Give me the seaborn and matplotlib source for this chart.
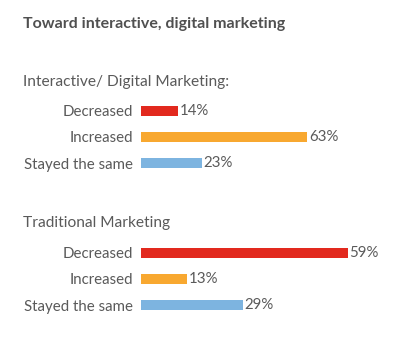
import matplotlib
matplotlib.use("Agg")
import matplotlib.pyplot as plt
import seaborn as sns
import pandas as pd

# data
categories = ["Decreased", "Increased", "Stayed the same"]
interactive_pct = [14, 63, 23]
traditional_pct = [59, 13, 29]
bar_colors = ["#E2291E", "#F8A830", "#7DB4E0"]

title = "Toward interactive, digital marketing"
group_titles = ["Interactive/ Digital Marketing:", "Traditional Marketing"]

sns.set_theme(style="white")
plt.rcParams['font.family'] = ['Lato', 'DejaVu Sans']

W, H = 400, 356
fig = plt.figure(figsize=(W / 100, H / 100), dpi=100)
fig.patch.set_facecolor("white")

text_grey = "#5a5a5a"


def px_axes(left, top, width, height):
    # pixel box (from top-left) -> figure axes
    return fig.add_axes([left / W, 1 - (top + height) / H, width / W, height / H])


def draw_group(ax, values, xmax):
    df = pd.DataFrame({"cat": categories, "pct": values})
    sns.barplot(data=df, x="pct", y="cat", hue="cat", palette=bar_colors,
                orient="h", width=0.42, dodge=False, legend=False, ax=ax,
                saturation=1, linewidth=0)
    for cont in ax.containers:
        ax.bar_label(cont, fmt="%d%%", padding=1.5, fontsize=10.8, color=text_grey)
    ax.set_xlim(0, xmax)
    ax.set_ylim(2.5, -0.5)
    ax.set_xlabel("")
    ax.set_ylabel("")
    ax.set_xticks([])
    ax.tick_params(axis="y", length=0, pad=6, labelsize=10.8, labelcolor=text_grey)
    sns.despine(ax=ax, left=True, bottom=True)
    ax.patch.set_alpha(0)


ax1 = px_axes(141, 98, 211, 78)
draw_group(ax1, interactive_pct, 80)

ax2 = px_axes(141, 240, 245, 78)
draw_group(ax2, traditional_pct, 70)

fig.text(23 / W, 1 - 24 / H, title, fontsize=11.5, fontweight="bold",
         color="#505050", va="center", ha="left")
fig.text(23 / W, 1 - 82 / H, group_titles[0], fontsize=11.2, color=text_grey,
         va="center", ha="left")
fig.text(23 / W, 1 - 223 / H, group_titles[1], fontsize=11.2, color=text_grey,
         va="center", ha="left")

fig.savefig("out.png", dpi=100, facecolor="white")
